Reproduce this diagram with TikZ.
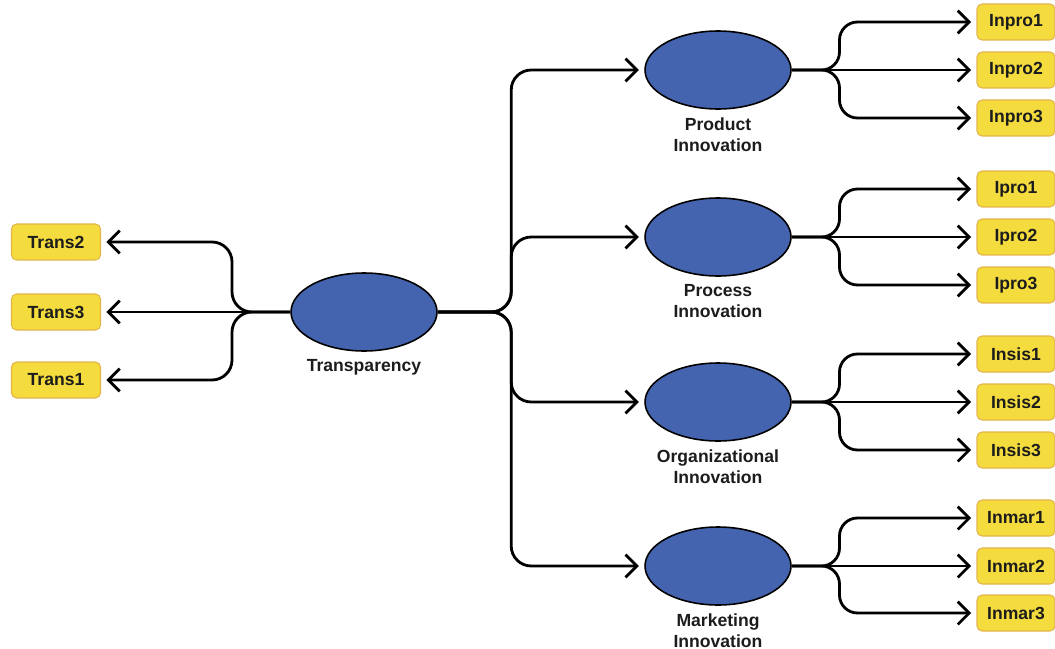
\documentclass[tikz,border=0pt]{standalone}
\usepackage{fontspec}
\setmainfont{Liberation Sans}
\usetikzlibrary{shapes.geometric, arrows.meta, positioning, calc}

\definecolor{ovalblue}{HTML}{4564AF}
\definecolor{boxyellow}{HTML}{F4DC3E}
\definecolor{boxedge}{HTML}{E3B44C}
\definecolor{textdark}{HTML}{1C1C1C}

\begin{document}
\begin{tikzpicture}[
    x=0.02cm, y=-0.02cm,
    node distance = 0.12cm and 1cm,
    oval/.style = {ellipse, draw, line width=0.9pt, fill=ovalblue, minimum width=2.92cm, minimum height=1.56cm},
    lbl/.style = {text=textdark, font=\bfseries\fontsize{10}{11.6}\selectfont, align=center, inner sep=1pt},
    leaf/.style = {rectangle, rounded corners=0.1cm, draw=boxedge, line width=0.6pt, fill=boxyellow, text=textdark, font=\bfseries\fontsize{10}{12}\selectfont, minimum height=0.72cm},
    leftbox/.style = {leaf, minimum width=1.78cm},
    rightbox/.style = {leaf, minimum width=1.56cm},
    arrow/.style = {-{Straight Barb[length=6.5pt, width=13pt, line width=1.6pt]}, line width=1.6pt, shorten >=3pt},
    fork/.style = {arrow, rounded corners=0.4cm},
    twig/.style = {arrow, rounded corners=0.36cm}
]
\useasboundingbox (0,0) rectangle (1055,649);

% Define nodes
\node[oval] (tr) at (364,312) {};
\node[lbl, below=of tr] (trl) {Transparency};

\node[leftbox] (trans2) at (56,242) {Trans2};
\node[leftbox] (trans3) at (56,312) {Trans3};
\node[leftbox] (trans1) at (56,380) {Trans1};

\node[oval] (pd) at (718,70) {};
\node[lbl, below=of pd] (pdl) {Product\\Innovation};
\node[oval] (ps) at (718,237) {};
\node[lbl, below=of ps] (psl) {Process\\Innovation};
\node[oval] (og) at (718,402) {};
\node[lbl, below=of og] (ogl) {Organizational\\Innovation};
\node[oval] (mk) at (718,566) {};
\node[lbl, below=of mk] (mkl) {Marketing\\Innovation};

\node[rightbox] (inpro1) at (1016,22) {Inpro1};
\node[rightbox] (inpro2) at (1016,70) {Inpro2};
\node[rightbox] (inpro3) at (1016,118) {Inpro3};
\node[rightbox] (ipro1) at (1016,189) {Ipro1};
\node[rightbox] (ipro2) at (1016,237) {Ipro2};
\node[rightbox] (ipro3) at (1016,285) {Ipro3};
\node[rightbox] (insis1) at (1016,354) {Insis1};
\node[rightbox] (insis2) at (1016,402) {Insis2};
\node[rightbox] (insis3) at (1016,450) {Insis3};
\node[rightbox] (inmar1) at (1016,518) {Inmar1};
\node[rightbox] (inmar2) at (1016,566) {Inmar2};
\node[rightbox] (inmar3) at (1016,613) {Inmar3};

% Draw arrows
\draw[fork] (tr.west) -| ($(trans2.east)+(131,0)$) -- (trans2.east);
\draw[arrow] (tr.west) -- (trans3.east);
\draw[fork] (tr.west) -| ($(trans1.east)+(131,0)$) -- (trans1.east);

\draw[fork] (tr.east) -| ($(pd.west)+(-133,0)$) -- (pd.west);
\draw[fork] (tr.east) -| ($(ps.west)+(-133,0)$) -- (ps.west);
\draw[fork] (tr.east) -| ($(og.west)+(-133,0)$) -- (og.west);
\draw[fork] (tr.east) -| ($(mk.west)+(-133,0)$) -- (mk.west);

\draw[twig] (pd.east) -| ($(inpro1.west)+(-137,0)$) -- (inpro1.west);
\draw[arrow] (pd.east) -- (inpro2.west);
\draw[twig] (pd.east) -| ($(inpro3.west)+(-137,0)$) -- (inpro3.west);

\draw[twig] (ps.east) -| ($(ipro1.west)+(-137,0)$) -- (ipro1.west);
\draw[arrow] (ps.east) -- (ipro2.west);
\draw[twig] (ps.east) -| ($(ipro3.west)+(-137,0)$) -- (ipro3.west);

\draw[twig] (og.east) -| ($(insis1.west)+(-137,0)$) -- (insis1.west);
\draw[arrow] (og.east) -- (insis2.west);
\draw[twig] (og.east) -| ($(insis3.west)+(-137,0)$) -- (insis3.west);

\draw[twig] (mk.east) -| ($(inmar1.west)+(-137,0)$) -- (inmar1.west);
\draw[arrow] (mk.east) -- (inmar2.west);
\draw[twig] (mk.east) -| ($(inmar3.west)+(-137,0)$) -- (inmar3.west);

\end{tikzpicture}
\end{document}
